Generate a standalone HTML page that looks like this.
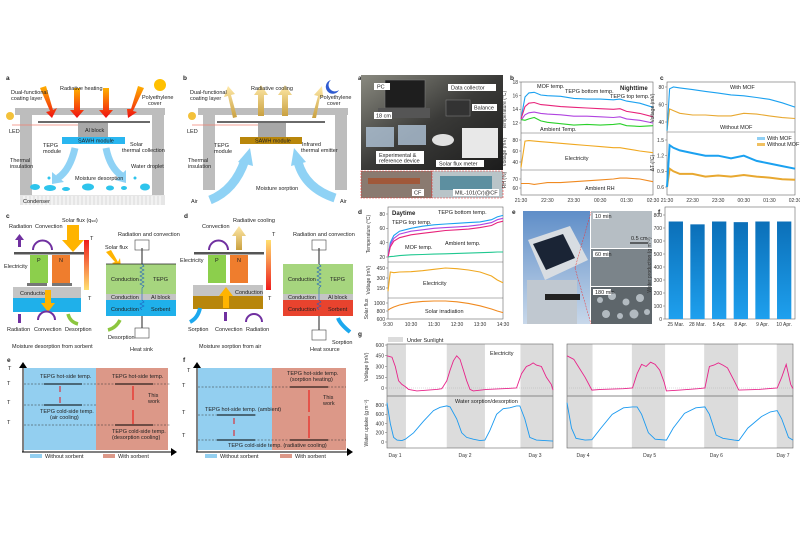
<!DOCTYPE html>
<html><head><meta charset="utf-8"><style>
html,body{margin:0;padding:0;background:#fff}
svg{display:block;font-family:"Liberation Sans",sans-serif}
text{font-size:5.5px;fill:#222}
.lb{font-weight:bold;font-size:6.5px}
.ax{stroke:#555;stroke-width:0.6;fill:none}
.tk{font-size:5px;fill:#333}
</style></head><body>
<svg id="fig" width="800" height="533" viewBox="0 0 800 533" xmlns="http://www.w3.org/2000/svg">
<defs>
<linearGradient id="redA" x1="0" y1="0" x2="0" y2="1"><stop offset="0" stop-color="#ffb000"/><stop offset="1" stop-color="#f01010"/></linearGradient>
<linearGradient id="yelA" x1="0" y1="1" x2="0" y2="0"><stop offset="0" stop-color="#c9a040"/><stop offset="1" stop-color="#ffe9a8"/></linearGradient>
<linearGradient id="heatC" x1="0" y1="0" x2="0" y2="1"><stop offset="0" stop-color="#ee1c1c"/><stop offset="1" stop-color="#ffe070"/></linearGradient>
<linearGradient id="heatD" x1="0" y1="1" x2="0" y2="0"><stop offset="0" stop-color="#ee1c1c"/><stop offset="1" stop-color="#ffe070"/></linearGradient>
<linearGradient id="barG" x1="0" y1="0" x2="0" y2="1"><stop offset="0" stop-color="#0b6fb8"/><stop offset="1" stop-color="#1ea0ee"/></linearGradient>
<linearGradient id="photoA" x1="0" y1="0" x2="1" y2="1"><stop offset="0" stop-color="#8a8a80"/><stop offset="0.5" stop-color="#3a3a38"/><stop offset="1" stop-color="#1c1c1c"/></linearGradient>
<linearGradient id="sky" x1="0" y1="0" x2="0" y2="1"><stop offset="0" stop-color="#5f8ec8"/><stop offset="1" stop-color="#c8d8ea"/></linearGradient>
</defs>

<g>
<text class="lb" x="6" y="80">a</text>
<rect x="15" y="108" width="150" height="7" fill="#bdbdbd"/>
<rect x="20" y="108" width="12" height="88" fill="#bdbdbd"/>
<rect x="152" y="108" width="12" height="88" fill="#bdbdbd"/>
<rect x="20" y="195" width="145" height="10" fill="#e6e6e6"/>
<path d="M24 196v9M28 196v9M32 196v9M36 196v9M40 196v9M44 196v9M48 196v9M52 196v9M56 196v9M60 196v9M64 196v9M68 196v9M72 196v9M76 196v9M80 196v9M84 196v9M88 196v9M92 196v9M96 196v9M100 196v9M104 196v9M108 196v9M112 196v9M116 196v9M120 196v9M124 196v9M128 196v9M132 196v9M136 196v9M140 196v9M144 196v9M148 196v9M152 196v9M156 196v9M160 196v9" stroke="#fff" stroke-width="1"/>
<text x="23" y="203">Condenser</text>
<line x1="38" y1="122" x2="150" y2="122" stroke="#111" stroke-width="1.2"/>
<line x1="12" y1="125" x2="78" y2="125" stroke="#f08070" stroke-width="0.8"/>
<rect x="78" y="123" width="30" height="14" fill="#a8a8a8"/>
<text x="85" y="132">Al block</text>
<rect x="62" y="137" width="63" height="7" fill="#29b6f0"/>
<text x="78" y="142.5">SAWH module</text>
<g fill="url(#redA)">
<polygon points="40,88 46,86 53,110 57,108 52,118 46,112 50,111"/>
<polygon points="74,88 80,88 80,110 84,110 77,118 70,110 74,110"/>
<polygon points="103,88 109,88 109,110 113,110 106,118 99,110 103,110"/>
<polygon points="138,86 144,88 133,111 137,112 128,118 127,109 131,109"/>
</g>
<circle cx="160" cy="85" r="6" fill="#ffc000"/>
<circle cx="10" cy="116" r="4" fill="#f3c13a"/>
<g fill="#2ec4ec"><ellipse cx="35" cy="187" rx="5" ry="3"/><ellipse cx="50" cy="188" rx="6" ry="3"/><ellipse cx="66" cy="189" rx="4" ry="2"/><ellipse cx="88" cy="187" rx="6" ry="3.5"/><ellipse cx="110" cy="188" rx="4" ry="2.5"/><ellipse cx="124" cy="188" rx="3" ry="2"/><ellipse cx="145" cy="187" rx="5" ry="3.5"/><circle cx="49" cy="178" r="1.5"/><circle cx="135" cy="178" r="1.5"/></g>
<path d="M75 148 Q70 170 58 178" stroke="#8fd2f5" stroke-width="7" fill="none"/>
<polygon points="52,172 64,182 52,184" fill="#8fd2f5"/>
<path d="M106 148 Q110 168 122 176" stroke="#8fd2f5" stroke-width="7" fill="none"/>
<polygon points="126,170 126,183 115,180" fill="#8fd2f5"/>
<text x="60" y="90">Radiative heating</text>
<text x="11" y="94">Dual-functional</text><text x="11" y="100">coating layer</text>
<text x="142" y="99">Polyethylene</text><text x="148" y="105">cover</text>
<text x="9" y="133">LED</text>
<text x="43" y="147">TEPG</text><text x="43" y="153">module</text>
<text x="130" y="146">Solar</text><text x="122" y="152">thermal collection</text>
<text x="10" y="162">Thermal</text><text x="10" y="168">insulation</text>
<text x="131" y="168">Water droplet</text>
<text x="75" y="180">Moisture desorption</text>
</g>

<g>
<text class="lb" x="183" y="80">b</text>
<rect x="198" y="108" width="150" height="7" fill="#bdbdbd"/>
<rect x="203" y="108" width="12" height="82" fill="#bdbdbd"/>
<rect x="335" y="108" width="12" height="82" fill="#bdbdbd"/>
<line x1="217" y1="122" x2="325" y2="122" stroke="#111" stroke-width="1.2"/>
<line x1="192" y1="125" x2="258" y2="125" stroke="#f08070" stroke-width="0.8"/>
<rect x="258" y="123" width="28" height="14" fill="#a8a8a8"/>
<rect x="240" y="137" width="62" height="7" fill="#b8860b"/>
<text x="255" y="142.5">SAWH module</text>
<g fill="url(#yelA)">
<polygon points="233,118 228,96 224,97 228,86 235,94 231,95 237,117"/>
<polygon points="258,116 258,95 254,95 261,85 268,95 264,95 264,116"/>
<polygon points="282,116 282,95 278,95 285,85 292,95 288,95 288,116"/>
<polygon points="312,118 318,96 314,95 322,86 323,97 320,97 316,118"/>
</g>
<path d="M331 80 a7 7 0 1 0 8 10 a6 6 0 0 1 -8 -10z" fill="#2f5bd0"/>
<circle cx="192" cy="116" r="4" fill="#f3c13a"/>
<path d="M210 200 Q235 190 245 160" stroke="#8fd2f5" stroke-width="9" fill="none"/>
<polygon points="238,162 250,148 253,166" fill="#8fd2f5"/>
<path d="M335 198 Q305 188 298 162" stroke="#8fd2f5" stroke-width="9" fill="none"/>
<polygon points="291,166 294,148 306,162" fill="#8fd2f5"/>
<text x="251" y="90">Radiative cooling</text>
<text x="190" y="94">Dual-functional</text><text x="190" y="100">coating layer</text>
<text x="320" y="99">Polyethylene</text><text x="327" y="105">cover</text>
<text x="187" y="133">LED</text>
<text x="214" y="147">TEPG</text><text x="214" y="153">module</text>
<text x="302" y="146">Infrared</text><text x="301" y="152">thermal emitter</text>
<text x="188" y="162">Thermal</text><text x="188" y="168">insulation</text>
<text x="256" y="190">Moisture sorption</text>
<text x="191" y="203">Air</text><text x="340" y="203">Air</text>
</g>

<g>
<text class="lb" x="6" y="218">c</text>
<rect x="14" y="252" width="70" height="2.5" fill="#555"/>
<rect x="30" y="255" width="18" height="28" fill="#8ccf4c"/>
<rect x="52" y="255" width="18" height="28" fill="#ef7d2d"/>
<text x="37" y="262">P</text><text x="59" y="262">N</text>
<rect x="27" y="283" width="20" height="3" fill="#777"/><rect x="52" y="283" width="20" height="3" fill="#777"/>
<rect x="13" y="287" width="68" height="11" fill="#c4c4c4"/>
<text x="20" y="295">Conduction</text>
<rect x="13" y="298" width="68" height="14" fill="#1fb0ea"/>
<polygon points="67,225 79,225 79,240 84,240 73,252 62,240 67,240" fill="#ffb400"/>
<polygon points="45,290 51,290 51,303 55,303 48,312 41,303 45,303" fill="#ffb400"/>
<rect x="84" y="240" width="5" height="50" fill="url(#heatC)"/>
<rect x="18" y="238" width="3" height="9" fill="#7030a0"/><polygon points="15,240 24,240 19.5,234" fill="#7030a0"/>
<path d="M33 250 A9 9 0 1 1 52 250" stroke="#7030a0" stroke-width="2" fill="none"/>
<rect x="18" y="314" width="3" height="9" fill="#7030a0"/>
<path d="M38 320 A8 8 0 1 1 55 320" stroke="#7030a0" stroke-width="2" fill="none"/>
<path d="M68 314 Q70 322 78 324" stroke="#8cc63f" stroke-width="3.5" fill="none"/>
<text x="62" y="222">Solar flux (q<tspan font-size="3.5">sol</tspan>)</text>
<text x="9" y="228">Radiation</text><text x="35" y="228">Convection</text>
<text x="4" y="268">Electricity</text>
<text x="7" y="331">Radiation</text><text x="34" y="331">Convection</text><text x="65" y="331">Desorption</text>
<text x="12" y="348">Moisture desorption from sorbent</text>
<text x="90" y="240">T</text><text x="88" y="300">T</text>
<text x="118" y="236">Radiation and convection</text>
<text x="105" y="249">Solar flux</text>
<polygon points="106,252 111,250 118,262 120,258 121,268 112,263 115,262" fill="#ffb400"/>
<rect x="106" y="264" width="70" height="30" fill="#a6d57e"/>
<rect x="106" y="294" width="70" height="6" fill="#c4c4c4"/>
<rect x="106" y="300" width="70" height="16" fill="#1fb0ea"/>
<line x1="106" y1="264" x2="176" y2="264" stroke="#222" stroke-width="0.8"/>
<path d="M142 248v16M142 316v12" stroke="#222" stroke-width="1"/>
<path d="M142 264 l2 2 -4 2 4 2 -4 2 4 2 -4 2 4 2 -4 2 4 2 -4 2 4 2 -2 2 v12 l2 2 -4 2 4 2 -4 2 2 2" stroke="#2060c0" stroke-width="0.6" fill="none"/>
<rect x="135" y="240" width="14" height="10" fill="none" stroke="#444" stroke-width="0.6"/>
<rect x="135" y="328" width="14" height="10" fill="none" stroke="#444" stroke-width="0.6"/>
<text x="111" y="281">Conduction</text><text x="153" y="281">TEPG</text>
<text x="111" y="299">Conduction</text><text x="151" y="299">Al block</text>
<text x="111" y="311">Conduction</text><text x="151" y="311">Sorbent</text>
<path d="M120 320 Q116 328 108 330" stroke="#8cc63f" stroke-width="3.5" fill="none"/>
<text x="108" y="339">Desorption</text>
<text x="130" y="351">Heat sink</text>
</g>

<g>
<text class="lb" x="184" y="218">d</text>
<rect x="194" y="252" width="70" height="2.5" fill="#555"/>
<rect x="208" y="255" width="18" height="28" fill="#8ccf4c"/>
<rect x="230" y="255" width="18" height="28" fill="#ef7d2d"/>
<text x="215" y="262">P</text><text x="237" y="262">N</text>
<rect x="193" y="285" width="70" height="11" fill="#c4c4c4"/>
<text x="235" y="294">Conduction</text>
<rect x="193" y="296" width="70" height="13" fill="#b8860b"/>
<polygon points="223,308 229,308 229,296 233,296 226,287 219,296 223,296" fill="#ffb400"/>
<polygon points="236,250 242,250 242,236 246,236 239,226 232,236 236,236" fill="url(#yelA)"/>
<rect x="266" y="240" width="5" height="50" fill="url(#heatD)"/>
<path d="M209 250 A9 9 0 1 1 228 250" stroke="#7030a0" stroke-width="2" fill="none"/>
<rect x="224" y="312" width="3" height="9" fill="#7030a0"/>
<path d="M246 322 A8 8 0 1 1 262 322" stroke="#7030a0" stroke-width="2" fill="none"/>
<path d="M190 322 Q198 318 200 308" stroke="#1ca8ee" stroke-width="4" fill="none"/>
<text x="233" y="222">Radiative cooling</text>
<text x="202" y="228">Convection</text>
<text x="180" y="262">Electricity</text>
<text x="188" y="331">Sorption</text><text x="215" y="331">Convection</text><text x="246" y="331">Radiation</text>
<text x="199" y="348">Moisture sorption from air</text>
<text x="272" y="236">T</text><text x="268" y="300">T</text>
<text x="293" y="236">Radiation and convection</text>
<rect x="283" y="264" width="70" height="30" fill="#a6d57e"/>
<rect x="283" y="294" width="70" height="6" fill="#c4c4c4"/>
<rect x="283" y="300" width="70" height="16" fill="#e8432e"/>
<path d="M319 248v16M319 316v14" stroke="#222" stroke-width="1"/>
<path d="M319 264 l2 2 -4 2 4 2 -4 2 4 2 -4 2 4 2 -4 2 4 2 -4 2 4 2 -2 2 v12 l2 2 -4 2 4 2 -4 2 2 2" stroke="#2060c0" stroke-width="0.6" fill="none"/>
<rect x="312" y="240" width="14" height="10" fill="none" stroke="#444" stroke-width="0.6"/>
<rect x="312" y="330" width="14" height="10" fill="none" stroke="#444" stroke-width="0.6"/>
<text x="288" y="281">Conduction</text><text x="330" y="281">TEPG</text>
<text x="288" y="299">Conduction</text><text x="328" y="299">Al block</text>
<text x="288" y="311">Conduction</text><text x="328" y="311">Sorbent</text>
<path d="M350 332 Q340 324 338 318" stroke="#1ca8ee" stroke-width="4" fill="none"/>
<text x="332" y="344">Sorption</text>
<text x="310" y="351">Heat source</text>
</g>

<g>
<text class="lb" x="7" y="362">e</text>
<rect x="24" y="368" width="72" height="82" fill="#93cff0"/>
<rect x="96" y="368" width="72" height="82" fill="#dc9888"/>
<path d="M23 452V366M22 452H172" stroke="#000" stroke-width="1"/>
<polygon points="19,368 27,368 23,362" /><polygon points="171,448 171,456 177,452"/>
<text x="8" y="370">T</text>
<path d="M24 384H170M24 405H96M24 425H170" stroke="#333" stroke-width="0.5" stroke-dasharray="2,1.5"/>
<path d="M44 384H82M44 405H82M115 384H153M115 425H153" stroke="#000" stroke-width="1"/>
<path d="M60 386v6M60 397v6M133 386v14M133 410v14" stroke="#e00" stroke-width="0.9"/>
<text x="40" y="378">TEPG hot-side temp.</text>
<text x="112" y="378">TEPG hot-side temp.</text>
<text x="40" y="413">TEPG cold-side temp.</text><text x="50" y="419">(air cooling)</text>
<text x="112" y="433">TEPG cold-side temp.</text><text x="112" y="439">(desorption cooling)</text>
<text x="148" y="397">This</text><text x="148" y="403">work</text>
<text x="7" y="385">T</text><text x="7" y="404">T</text><text x="7" y="424">T</text>
<rect x="30" y="454" width="12" height="4" fill="#93cff0"/><text x="45" y="458">Without sorbent</text>
<rect x="103" y="454" width="12" height="4" fill="#dc9888"/><text x="118" y="458">With sorbent</text>
</g>

<g>
<text class="lb" x="183" y="362">f</text>
<rect x="198" y="368" width="74" height="82" fill="#93cff0"/>
<rect x="272" y="368" width="74" height="82" fill="#dc9888"/>
<path d="M197 452V366M196 452H348" stroke="#000" stroke-width="1"/>
<polygon points="193,368 201,368 197,362"/><polygon points="347,448 347,456 353,452"/>
<text x="187" y="372">T</text>
<path d="M198 387H346M198 415H256M198 440H346" stroke="#333" stroke-width="0.5" stroke-dasharray="2,1.5"/>
<path d="M217 415H255M217 440H255M290 387H328M290 440H328" stroke="#000" stroke-width="1"/>
<path d="M234 418v6M234 430v6M309 390v22M309 416v22" stroke="#e00" stroke-width="0.9"/>
<text x="287" y="375">TEPG hot-side temp.</text><text x="290" y="381">(sorption heating)</text>
<text x="205" y="411">TEPG hot-side temp. (ambient)</text>
<text x="228" y="447">TEPG cold-side temp. (radiative cooling)</text>
<text x="323" y="399">This</text><text x="323" y="405">work</text>
<text x="182" y="387">T</text><text x="182" y="414">T</text><text x="182" y="437">T</text>
<rect x="205" y="454" width="12" height="4" fill="#93cff0"/><text x="220" y="458">Without sorbent</text>
<rect x="280" y="454" width="12" height="4" fill="#dc9888"/><text x="295" y="458">With sorbent</text>
</g>

<g>
<text class="lb" x="358" y="80">a</text>
<rect x="361" y="75" width="142" height="95" fill="url(#photoA)"/>
<rect x="385" y="80" width="40" height="28" fill="#1e1e1e" stroke="#777" stroke-width="0.6"/>
<rect x="378" y="108" width="52" height="10" fill="#555"/>
<rect x="446" y="100" width="24" height="16" fill="#333" stroke="#888" stroke-width="0.5"/>
<rect x="462" y="128" width="36" height="30" fill="#e8e8e8"/>
<ellipse cx="443" cy="140" rx="11" ry="6" fill="#e0e0e0"/>
<rect x="366" y="127" width="28" height="20" fill="#b0c4d8" opacity="0.8"/>
<rect x="398" y="125" width="28" height="20" fill="#b0c4d8" opacity="0.8"/>
<rect x="374" y="83" width="16" height="7" fill="#fff"/><text x="377" y="88.5">PC</text>
<rect x="448" y="84" width="48" height="7" fill="#fff"/><text x="451" y="89.5">Data collector</text>
<rect x="472" y="104" width="25" height="7" fill="#fff"/><text x="474" y="109.5">Balance</text>
<rect x="374" y="112" width="18" height="7" fill="#fff"/><text x="376" y="117.5">18 cm</text>
<rect x="376" y="151" width="48" height="13" fill="#fff"/><text x="379" y="157">Experimental &amp;</text><text x="379" y="162.5">reference device</text>
<rect x="436" y="160" width="48" height="7" fill="#fff"/><text x="439" y="165.5">Solar flux meter</text>
<rect x="361" y="171" width="71" height="27" fill="#8a7a70" stroke="#e33" stroke-width="0.6" stroke-dasharray="2,1"/>
<rect x="368" y="178" width="52" height="6" fill="#a0583a"/>
<rect x="432" y="171" width="71" height="27" fill="#b9c4c8" stroke="#e33" stroke-width="0.6" stroke-dasharray="2,1"/>
<rect x="440" y="176" width="52" height="14" fill="#5d8fa0"/>
<rect x="412" y="189" width="12" height="7" fill="#fff"/><text x="414" y="194.5">CF</text>
<rect x="453" y="189" width="46" height="7" fill="#fff"/><text x="455" y="194.5">MIL-101(Cr)@CF</text>
</g>

<g>
<text class="lb" x="512" y="214">e</text>
<rect x="523" y="211" width="67" height="113" fill="url(#sky)"/>
<polygon points="528,240 570,226 588,260 545,280" fill="#d8dde2"/>
<polygon points="533,244 563,234 575,258 546,270" fill="#1a2435"/>
<rect x="527" y="280" width="50" height="44" fill="#c0c8d0"/>
<rect x="545" y="294" width="35" height="6" fill="#222"/>
<rect x="591" y="211" width="61" height="37" fill="#b6bec4"/>
<rect x="591" y="249" width="61" height="37" fill="#7b848a"/>
<rect x="591" y="287" width="61" height="37" fill="#5e666b"/>
<g fill="#c8d0d6" opacity="0.8"><circle cx="600" cy="300" r="3"/><circle cx="612" cy="296" r="4"/><circle cx="626" cy="302" r="3.5"/><circle cx="640" cy="298" r="4"/><circle cx="606" cy="314" r="4"/><circle cx="620" cy="316" r="3"/><circle cx="634" cy="314" r="4.5"/><circle cx="647" cy="312" r="3"/></g>
<rect x="593" y="213" width="16" height="6" fill="#fff"/><text x="595" y="218">10 min</text>
<rect x="593" y="251" width="16" height="6" fill="#fff"/><text x="595" y="256">60 min</text>
<rect x="593" y="289" width="18" height="6" fill="#fff"/><text x="595" y="294">180 min</text>
<text x="631" y="240">0.5 cm</text><line x1="630" y1="243" x2="648" y2="243" stroke="#000"/>
<line x1="575" y1="268" x2="591" y2="212" stroke="#e33" stroke-width="0.5" stroke-dasharray="2,1"/>
<line x1="575" y1="268" x2="591" y2="324" stroke="#e33" stroke-width="0.5" stroke-dasharray="2,1"/>
</g>

<g id="charts"></g>
</svg>
<script>
const bT = [0,3,6,10,15,20,30,40,50,60,70,75,80,90,100];
const bMOF = [12.6,15.8,16.4,16.5,16.1,16.0,15.9,15.6,15.5,15.5,15.4,15.5,15.2,14.9,14.3];
const bBottom = [12.6,14.4,14.9,15.0,14.7,14.6,14.4,14.3,14.2,14.1,14.0,14.1,13.7,13.4,12.9];
const bTop = [12.4,13.2,13.5,13.6,13.4,13.3,13.2,13.0,13.0,12.9,12.8,12.9,12.6,12.4,12.0];
const bAmb = [12.5,12.4,12.6,12.8,12.3,12.1,11.9,11.7,11.8,11.7,11.8,11.9,11.6,11.5,11.6];
const bVolt = [30,78,79,78,77,76,74,72,70,68,66,66,64,60,57];
const bRH = [65,65,65,64,65,66,66,67,68,69,70,71,71,70,67];
const bTicks = ["21:30","22:30","23:30","00:30","01:30","02:30"];
const cT = [0,2,5,10,20,30,40,50,60,70,80,90,100];
const cVwith = [30,78,80,79,77,75,73,71,70,68,66,62,57];
const cVwithout = [30,55,53,50,48,48,47,47,50,49,47,45,44];
const cDTwith = [0.6,1.4,1.35,1.3,1.25,1.2,1.2,1.15,1.2,1.1,1.05,1.0,0.95];
const cDTwithout = [0.6,0.95,0.9,0.85,0.85,0.8,0.82,0.8,0.83,0.8,0.78,0.75,0.74];
const cTicks = ["21:30","22:30","23:30","00:30","01:30","02:30"];
const dT = [0,2,5,10,20,30,40,50,60,70,80,90,95,100];
const dTop = [20,40,50,56,60,63,65,66,67,68,69,72,76,78];
const dBottom = [20,37,46,52,56,58,60,61,62,63,65,68,72,74];
const dMOF = [20,34,42,47,51,53,55,57,58,59,61,64,68,70];
const dAmb = [20,20.5,21,22,23,23.5,24,24.5,25,25.5,26,26.5,27,27];
const dVolt = [100,390,380,390,395,410,430,450,440,420,390,330,270,230];
const dSolar = [820,860,900,950,1010,1040,1050,1050,1030,990,930,850,800,760];
const dTicks = ["9:30","10:30","11:30","12:30","13:30","14:30"];
const fCats = ["25 Mar.","28 Mar.","5 Apr.","8 Apr.","9 Apr.","10 Apr."];
const fVals = [750,728,750,745,750,750];
const fTicks = [0,100,200,300,400,500,600,700,800];
const gDays1 = ["Day 1","Day 2","Day 3"];
const gDays2 = ["Day 4","Day 5","Day 6","Day 7"];
const gSun1 = [[0,11.4],[36,59],[80.4,100]];
const gSun2 = [[0,11.3],[28.7,43.4],[60.7,75.7],[92.8,100]];
const gW1t = [0,2,4,6,9,11,16,22,28,32,36,38,42,45,48,52,56,59,62,66,70,74,78,80,83,86,90,95,100];
const gW1 = [850,400,100,40,30,60,200,450,680,750,780,760,500,200,100,60,30,40,250,600,720,740,780,780,500,100,40,30,20];
const gV1t = [0,3,5,7,9,11,13,18,25,30,33,36,38,40,42,44,46,48,50,52,60,70,78,81,84,86,88,90,93,96,99,100];
const gV1 = [450,430,300,100,50,20,-20,-40,-30,-20,-10,100,250,380,450,400,250,100,-20,-40,-20,-10,0,200,300,320,350,320,300,150,50,-30];
const gW2t = [0,2,4,8,11,15,20,25,29,31,33,36,39,44,47,52,57,61,63,66,69,74,76,80,86,90,93,95,98,100];
const gW2 = [850,300,80,40,50,300,600,740,760,760,600,200,60,40,300,620,740,760,600,150,80,40,30,300,550,650,680,500,100,40];
const gV2t = [0,3,5,8,11,15,25,29,31,33,35,37,39,41,43,44,50,58,61,63,65,67,69,71,74,76,85,93,95,97,99,100];
const gV2 = [450,400,300,150,-30,-20,-10,0,200,330,300,360,330,250,80,-40,-30,-10,0,300,320,350,320,280,100,-30,-20,0,150,330,50,-10];
const gVTicks = [0,150,300,450,600];
const gWTicks = [0,200,400,600,800];

const NS = "http://www.w3.org/2000/svg";
const root = document.getElementById('charts');
function mk(tag, attrs, parent, txt){
  const e = document.createElementNS(NS, tag);
  for (const k in attrs) e.setAttribute(k, attrs[k]);
  if (txt !== undefined) e.textContent = txt;
  (parent || root).appendChild(e);
  return e;
}
function lin(d0,d1,r0,r1){ return v => r0 + (v-d0)/(d1-d0)*(r1-r0); }
function poly(ts, vs, sx, sy, color, w, parent, name){
  const pts = ts.map((t,i)=> sx(t).toFixed(1)+','+sy(vs[i]).toFixed(1)).join(' ');
  const p = mk('polyline', {points:pts, fill:'none', stroke:color, 'stroke-width':w||1}, parent);
  
  
  return p;
}
function box(x,y,w,h,parent){ mk('rect',{x:x,y:y,width:w,height:h,fill:'none',stroke:'#666','stroke-width':0.6},parent); }
function yTicks(ticks, sy, x, parent){
  ticks.forEach(v=>{ mk('line',{x1:x-2,x2:x,y1:sy(v),y2:sy(v),stroke:'#666','stroke-width':0.5},parent);
    mk('text',{x:x-3,y:sy(v)+1.8,'text-anchor':'end',class:'tk'},parent,String(v)); });
}
function xLabels(labels, x0, x1, y, parent){
  const sx = lin(0, labels.length-1, x0, x1);
  labels.forEach((l,i)=> mk('text',{x:sx(i),y:y,'text-anchor':'middle',class:'tk'},parent,l));
}

(function(){
  const g = mk('g',{});
  
  
  mk('text',{x:510,y:80,class:'lb'},g,'b');
  const sx = lin(0,100,521,653);
  box(521,82,132,113,g);
  mk('line',{x1:521,x2:653,y1:133,y2:133,stroke:'#666','stroke-width':0.5},g);
  mk('line',{x1:521,x2:653,y1:170,y2:170,stroke:'#666','stroke-width':0.5},g);
  const sT = lin(12,18,123,82);
  yTicks([12,14,16,18], sT, 521, g);
  poly(bT,bMOF,sx,sT,'#1ba1f0',1.1,g,'mof-temp-line');
  poly(bT,bBottom,sx,sT,'#e8237a',1.1,g,'tepg-bottom-line');
  poly(bT,bTop,sx,sT,'#b044e0',1.1,g,'tepg-top-line');
  poly(bT,bAmb,sx,sT,'#2ad02a',1.1,g,'ambient-temp-line');
  const sV = lin(40,80,162,140);
  yTicks([40,60,80], sV, 521, g);
  poly(bT,bVolt,sx,sV,'#f0a820',1.1,g,'electricity-line');
  const sR = lin(60,80,188,170);
  yTicks([60,70], sR, 521, g);
  poly(bT,bRH,sx,sR,'#f08a20',1.1,g,'ambient-rh-line');
  xLabels(bTicks,521,653,202,g);
  mk('text',{x:537,y:88},g,'MOF temp.');
  mk('text',{x:565,y:93},g,'TEPG bottom temp.');
  mk('text',{x:620,y:90,style:'font-weight:bold;font-size:6px'},g,'Nighttime');
  mk('text',{x:610,y:98},g,'TEPG top temp.');
  mk('text',{x:540,y:131},g,'Ambient Temp.');
  mk('text',{x:565,y:160},g,'Electricity');
  mk('text',{x:585,y:190},g,'Ambient RH');
  mk('text',{x:506,y:110,class:'tk',transform:'rotate(-90 506 110)','text-anchor':'middle'},g,'Temperature (°C)');
  mk('text',{x:506,y:152,class:'tk',transform:'rotate(-90 506 152)','text-anchor':'middle'},g,'Voltage (mV)');
  mk('text',{x:506,y:180,class:'tk',transform:'rotate(-90 506 180)','text-anchor':'middle'},g,'RH (%)');
})();

(function(){
  const g = mk('g',{});
  
  
  mk('text',{x:660,y:80,class:'lb'},g,'c');
  const sx = lin(0,100,667,795);
  box(667,82,128,113,g);
  mk('line',{x1:667,x2:795,y1:132,y2:132,stroke:'#666','stroke-width':0.5},g);
  const sV = lin(40,80,122,87);
  yTicks([40,60,80], sV, 667, g);
  poly(cT,cVwithout,sx,sV,'#e8a830',1.1,g,'voltage-without-mof');
  poly(cT,cVwith,sx,sV,'#1ba1f0',1.1,g,'voltage-with-mof');
  const sD = lin(0.6,1.5,187,140);
  yTicks([0.6,0.9,1.2,1.5], sD, 667, g);
  poly(cT,cDTwithout,sx,sD,'#e8a830',2,g,'dt-without-mof');
  poly(cT,cDTwith,sx,sD,'#1ba1f0',2,g,'dt-with-mof');
  xLabels(cTicks,667,795,202,g);
  mk('text',{x:730,y:89},g,'With MOF');
  mk('text',{x:720,y:129},g,'Without MOF');
  mk('rect',{x:757,y:137,width:8,height:3,fill:'#8fd0f5'},g);
  mk('text',{x:767,y:140},g,'With MOF');
  mk('rect',{x:757,y:143,width:8,height:3,fill:'#f0c060'},g);
  mk('text',{x:767,y:146},g,'Without MOF');
  mk('text',{x:654,y:108,class:'tk',transform:'rotate(-90 654 108)','text-anchor':'middle'},g,'Voltage (mV)');
  mk('text',{x:654,y:163,class:'tk',transform:'rotate(-90 654 163)','text-anchor':'middle'},g,'ΔT (°C)');
})();

(function(){
  const g = mk('g',{});
  
  
  mk('text',{x:358,y:214,class:'lb'},g,'d');
  const sx = lin(0,100,388,503);
  box(388,207,115,112,g);
  mk('line',{x1:388,x2:503,y1:262,y2:262,stroke:'#666','stroke-width':0.5},g);
  mk('line',{x1:388,x2:503,y1:298,y2:298,stroke:'#666','stroke-width':0.5},g);
  const sT = lin(20,80,257,214);
  yTicks([20,40,60,80], sT, 388, g);
  poly(dT,dTop,sx,sT,'#1ba1f0',1.1,g,'tepg-top-line');
  poly(dT,dBottom,sx,sT,'#b044e0',1.1,g,'tepg-bottom-line');
  poly(dT,dMOF,sx,sT,'#e8237a',1.1,g,'mof-temp-line');
  poly(dT,dAmb,sx,sT,'#20c890',1.1,g,'ambient-temp-line');
  const sV = lin(150,450,288,268);
  yTicks([150,300,450], sV, 388, g);
  poly(dT,dVolt,sx,sV,'#f0a820',1.1,g,'electricity-line');
  const sS = lin(600,1000,319,303);
  yTicks([600,800,1000], sS, 388, g);
  poly(dT,dSolar,sx,sS,'#f08a20',1.1,g,'solar-irradiation-line');
  xLabels(dTicks,388,503,326,g);
  mk('text',{x:392,y:215,style:'font-weight:bold;font-size:6px'},g,'Daytime');
  mk('text',{x:438,y:214},g,'TEPG bottom temp.');
  mk('text',{x:392,y:224},g,'TEPG top temp.');
  mk('text',{x:405,y:249},g,'MOF temp.');
  mk('text',{x:445,y:245},g,'Ambient temp.');
  mk('text',{x:423,y:285},g,'Electricity');
  mk('text',{x:425,y:313},g,'Solar irradiation');
  mk('text',{x:370,y:234,class:'tk',transform:'rotate(-90 370 234)','text-anchor':'middle'},g,'Temperature (°C)');
  mk('text',{x:370,y:280,class:'tk',transform:'rotate(-90 370 280)','text-anchor':'middle'},g,'Voltage (mV)');
  mk('text',{x:368,y:309,class:'tk',transform:'rotate(-90 368 309)','text-anchor':'middle'},g,'Solar flux');
})();

(function(){
  const g = mk('g',{});
  
  
  mk('text',{x:658,y:214,class:'lb'},g,'f');
  box(665,207,130,112,g);
  const sy = lin(0,800,319,215);
  yTicks(fTicks, sy, 665, g);
  const band = 130/fCats.length;
  fCats.forEach((c,i)=>{
    const x = 665 + band*i + band*0.17;
    const r = mk('rect',{x:x,y:sy(fVals[i]),width:band*0.66,height:sy(0)-sy(fVals[i]),fill:'url(#barG)'},g);
    
    
    mk('text',{x:x+band*0.33,y:326,'text-anchor':'middle',class:'tk'},g,c);
  });
  mk('text',{x:651,y:265,class:'tk',transform:'rotate(-90 651 265)','text-anchor':'middle'},g,'Water production (g m⁻²)');
})();

(function(){
  const g = mk('g',{});
  
  
  mk('text',{x:358,y:336,class:'lb'},g,'g');
  mk('rect',{x:388,y:337,width:15,height:5,fill:'#dcdcdc'},g);
  mk('text',{x:407,y:342},g,'Under Sunlight');
  const segs = [[387,553,gSun1,gW1t,gW1,gV1t,gV1,gDays1],[567,793,gSun2,gW2t,gW2,gV2t,gV2,gDays2]];
  const sV = lin(0,600,388,345);
  const sW = lin(0,800,442,405);
  segs.forEach((s,k)=>{
    const sx = lin(0,100,s[0],s[1]);
    s[2].forEach(r=>{
      const sr = mk('rect',{x:sx(r[0]),y:344,width:sx(r[1])-sx(r[0]),height:104,fill:'#dcdcdc'},g);
      
      
    });
    box(s[0],344,s[1]-s[0],104,g);
    mk('line',{x1:s[0],x2:s[1],y1:396,y2:396,stroke:'#888','stroke-width':1},g);
    mk('line',{x1:s[0],x2:s[1],y1:sV(0),y2:sV(0),stroke:'#aaa','stroke-width':0.4,'stroke-dasharray':'1,1'},g);
    poly(s[5],s[6],sx,sV,'#e8238a',0.9,g,'voltage-line-'+(k+1));
    poly(s[3],s[4],sx,sW,'#1b9af0',0.9,g,'water-uptake-line-'+(k+1));
    s[7].forEach((d,i)=> mk('text',{x:(k===0?lin(0,2,395,535)(i):lin(0,3,583,783)(i)),y:457,'text-anchor':'middle',class:'tk'},g,d));
  });
  yTicks(gVTicks, sV, 387, g);
  yTicks(gWTicks, sW, 387, g);
  mk('text',{x:490,y:355},g,'Electricity');
  mk('text',{x:455,y:403},g,'Water sorption/desorption');
  mk('text',{x:368,y:367,class:'tk',transform:'rotate(-90 368 367)','text-anchor':'middle'},g,'Voltage (mV)');
  mk('text',{x:368,y:423,class:'tk',transform:'rotate(-90 368 423)','text-anchor':'middle'},g,'Water uptake (g m⁻²)');
})();
</script>
</body></html>
